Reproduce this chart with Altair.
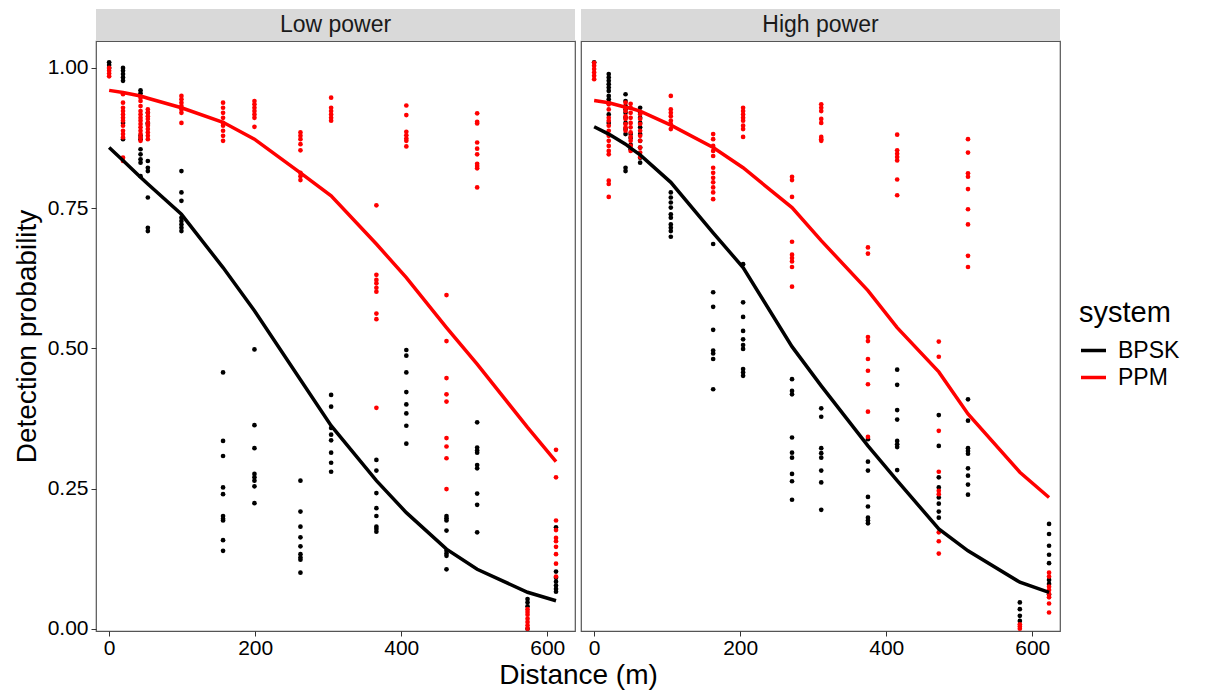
import altair as alt
import pandas as pd

FONT = "Liberation Sans"

# ---------------- Low power ----------------
low_dist = [0, 19, 43, 53, 99, 156, 199, 262, 304, 366, 407, 462, 504, 573, 612]
low_bpsk = [
    [1.01, 1.005, 1.0],
    [1.0, 0.995, 0.989, 0.983, 0.977, 0.902, 0.873],
    [0.960, 0.955, 0.879, 0.873, 0.855, 0.846, 0.837, 0.831, 0.807],
    [0.920, 0.902, 0.900, 0.834, 0.822, 0.816, 0.769, 0.715, 0.709],
    [0.816, 0.778, 0.763, 0.733, 0.727, 0.721, 0.715, 0.709],
    [0.457, 0.335, 0.308, 0.252, 0.240, 0.201, 0.196, 0.193, 0.158, 0.139],
    [0.498, 0.363, 0.322, 0.276, 0.270, 0.264, 0.254, 0.224],
    [0.264, 0.209, 0.182, 0.163, 0.147, 0.133, 0.127, 0.123, 0.100],
    [0.417, 0.396, 0.358, 0.346, 0.336, 0.314, 0.296, 0.280],
    [0.301, 0.282, 0.242, 0.215, 0.201, 0.182, 0.178, 0.173],
    [0.497, 0.487, 0.457, 0.422, 0.400, 0.384, 0.362, 0.330],
    [0.201, 0.197, 0.193, 0.175, 0.139, 0.134, 0.130, 0.106],
    [0.368, 0.323, 0.318, 0.314, 0.292, 0.286, 0.241, 0.221, 0.172],
    [0.053, 0.047, 0.040, 0.0],
    [0.181, 0.102, 0.091, 0.084, 0.077, 0.071, 0.066],
]
low_ppm = [
    [1.0, 0.995, 0.99, 0.985],
    [0.953, 0.938, 0.929, 0.923, 0.917, 0.911, 0.906, 0.897, 0.888, 0.882, 0.876, 0.840, 0.834],
    [0.947, 0.941, 0.932, 0.923, 0.917, 0.911, 0.906, 0.900, 0.894, 0.888, 0.882, 0.876, 0.870],
    [0.926, 0.920, 0.914, 0.909, 0.902, 0.897, 0.891, 0.885, 0.879, 0.873],
    [0.950, 0.944, 0.938, 0.932, 0.926, 0.920, 0.902],
    [0.938, 0.929, 0.920, 0.911, 0.902, 0.897, 0.888, 0.879, 0.870],
    [0.941, 0.935, 0.929, 0.923, 0.917, 0.911, 0.895],
    [0.885, 0.879, 0.873, 0.864, 0.853, 0.813, 0.807, 0.800],
    [0.947, 0.929, 0.923, 0.917, 0.911, 0.906],
    [0.755, 0.631, 0.622, 0.616, 0.608, 0.601, 0.562, 0.552, 0.394],
    [0.933, 0.916, 0.886, 0.880, 0.874, 0.870, 0.860],
    [0.595, 0.513, 0.447, 0.418, 0.405, 0.340, 0.325, 0.304, 0.249],
    [0.919, 0.904, 0.901, 0.867, 0.856, 0.846, 0.829, 0.825, 0.821, 0.787],
    [0.035, 0.030, 0.025, 0.018, 0.012, 0.006, 0.0],
    [0.319, 0.270, 0.193, 0.176, 0.162, 0.156, 0.146, 0.133, 0.116, 0.093],
]
low_bpsk_fit = [0.858, 0.835, 0.805, 0.793, 0.739, 0.644, 0.567, 0.444, 0.362,
                0.264, 0.207, 0.142, 0.106, 0.065, 0.050]
low_ppm_fit = [0.960, 0.956, 0.950, 0.946, 0.929, 0.903, 0.873, 0.813, 0.772,
               0.686, 0.626, 0.537, 0.472, 0.359, 0.298]

# ---------------- High power ----------------
high_dist = [0, 20, 43, 50, 63, 105, 163, 204, 271, 311, 375, 415, 472, 512, 583, 623]
high_bpsk = [
    [1.01],
    [0.989, 0.983, 0.977, 0.971, 0.965, 0.959, 0.950, 0.944, 0.938, 0.917, 0.902],
    [0.953, 0.941, 0.932, 0.926, 0.920, 0.911, 0.902, 0.891, 0.882, 0.822, 0.816],
    [0.882, 0.875, 0.863, 0.855],
    [0.929, 0.920, 0.911, 0.902, 0.894, 0.882, 0.870, 0.858, 0.840, 0.831],
    [0.778, 0.769, 0.760, 0.751, 0.739, 0.733, 0.721, 0.715, 0.709, 0.699],
    [0.686, 0.600, 0.574, 0.533, 0.496, 0.491, 0.481, 0.427],
    [0.650, 0.582, 0.556, 0.531, 0.516, 0.506, 0.499, 0.463, 0.457, 0.451],
    [0.445, 0.424, 0.418, 0.341, 0.314, 0.305, 0.276, 0.263, 0.230],
    [0.393, 0.378, 0.322, 0.313, 0.305, 0.282, 0.261, 0.212],
    [0.338, 0.298, 0.282, 0.235, 0.218, 0.198, 0.193, 0.188],
    [0.462, 0.435, 0.390, 0.373, 0.335, 0.329, 0.324, 0.283],
    [0.381, 0.326, 0.270, 0.252, 0.234, 0.223, 0.209, 0.198],
    [0.409, 0.371, 0.322, 0.317, 0.312, 0.286, 0.273, 0.257, 0.239],
    [0.047, 0.035, 0.023, 0.014],
    [0.187, 0.169, 0.148, 0.132, 0.117, 0.087, 0.080, 0.061],
]
high_ppm = [
    [1.009, 1.004, 0.998, 0.992, 0.986, 0.980],
    [0.935, 0.926, 0.911, 0.906, 0.897, 0.888, 0.879, 0.870, 0.861, 0.852, 0.846, 0.799, 0.793, 0.770],
    [0.938, 0.929, 0.923, 0.914, 0.909, 0.900, 0.894, 0.888],
    [0.936, 0.929, 0.920, 0.911, 0.902, 0.894, 0.885, 0.877, 0.870, 0.861, 0.852],
    [0.917, 0.909, 0.900, 0.888, 0.879, 0.870, 0.858, 0.849, 0.841],
    [0.950, 0.926, 0.920, 0.914, 0.906, 0.900, 0.891],
    [0.882, 0.873, 0.861, 0.852, 0.843, 0.822, 0.813, 0.804, 0.796, 0.787, 0.778, 0.766],
    [0.929, 0.923, 0.917, 0.911, 0.906, 0.897, 0.891, 0.877],
    [0.806, 0.800, 0.770, 0.690, 0.667, 0.661, 0.655, 0.645, 0.610],
    [0.935, 0.929, 0.923, 0.909, 0.902, 0.877, 0.873, 0.870],
    [0.680, 0.669, 0.520, 0.513, 0.481, 0.460, 0.436, 0.387, 0.342],
    [0.881, 0.853, 0.847, 0.841, 0.835, 0.801, 0.773],
    [0.512, 0.485, 0.353, 0.280, 0.246, 0.240, 0.172, 0.156, 0.134],
    [0.873, 0.849, 0.812, 0.806, 0.784, 0.748, 0.721, 0.665, 0.645],
    [0.008, 0.004, 0.0],
    [0.100, 0.093, 0.075, 0.069, 0.062, 0.056, 0.045, 0.029],
]
high_bpsk_fit = [0.895, 0.882, 0.864, 0.857, 0.845, 0.796, 0.706, 0.644, 0.503,
                 0.433, 0.326, 0.264, 0.178, 0.139, 0.083, 0.065]
high_ppm_fit = [0.942, 0.938, 0.930, 0.928, 0.923, 0.898, 0.858, 0.822, 0.751,
                0.692, 0.603, 0.537, 0.458, 0.383, 0.279, 0.234]

systems = ["BPSK", "PPM"]
sys_colors = ["#000000", "#FF0000"]
panel_titles = ["Low power", "High power"]
x_ticks = [0, 200, 400, 600]
y_ticks = [0.0, 0.25, 0.5, 0.75, 1.0]


def points_frame(dist, bpsk, ppm):
    rows = []
    for name, groups in (("BPSK", bpsk), ("PPM", ppm)):
        for d, vals in zip(dist, groups):
            for v in vals:
                rows.append({"distance": d, "prob": v, "system": name})
    return pd.DataFrame(rows)


def fit_frame(dist, bfit, pfit):
    rows = []
    for name, fit in (("BPSK", bfit), ("PPM", pfit)):
        for d, v in zip(dist, fit):
            rows.append({"distance": d, "prob": v, "system": name})
    return pd.DataFrame(rows)


W, H, STRIP = 479, 590, 32
TICK_FS, TITLE_FS, STRIP_FS = 21, 28, 23

x_scale = alt.Scale(domain=[-18, 638], nice=False, zero=False)
y_scale = alt.Scale(domain=[-0.004, 1.048], nice=False, zero=False)
color_scale = alt.Scale(domain=systems, range=sys_colors)

legend = alt.Legend(
    title="system", orient="none", legendX=983, legendY=258,
    symbolType="stroke", symbolStrokeWidth=3.5, symbolSize=625,
    titleFont=FONT, titleFontSize=29, titleFontWeight="normal", titleColor="#000000",
    labelFont=FONT, labelFontSize=23, labelColor="#000000",
    rowPadding=-3, titlePadding=8, labelOffset=10,
)


def make_panel(title, pts, fit, first):
    if first:
        y_axis = alt.Axis(values=y_ticks, format=".2f", title="Detection probability",
                          grid=False, domain=False, tickColor="#333333", tickSize=5,
                          labelFont=FONT, labelFontSize=TICK_FS, labelColor="#000000",
                          labelPadding=3, titleFont=FONT, titleFontSize=TITLE_FS,
                          titleFontWeight="normal", titleColor="#000000", titlePadding=6)
        x_axis = alt.Axis(values=x_ticks, format="d", title="Distance (m)",
                          grid=False, domain=False, tickColor="#333333", tickSize=5,
                          labelFont=FONT, labelFontSize=TICK_FS, labelColor="#000000",
                          labelPadding=1, labelFlush=False, titleFont=FONT, titleFontSize=TITLE_FS,
                          titleFontWeight="normal", titleColor="#000000", titlePadding=3,
                          titleX=W + 3)
    else:
        y_axis = None
        x_axis = alt.Axis(values=x_ticks, format="d", title=None,
                          grid=False, domain=False, tickColor="#333333", tickSize=5,
                          labelFont=FONT, labelFontSize=TICK_FS, labelColor="#000000",
                          labelPadding=1, labelFlush=False)

    x_enc = alt.X("distance:Q", scale=x_scale, axis=x_axis)
    y_enc = alt.Y("prob:Q", scale=y_scale, axis=y_axis)
    c_enc = alt.Color("system:N", scale=color_scale, legend=legend)

    pts_layer = alt.Chart(pts).mark_circle(size=22, opacity=1).encode(
        x=x_enc, y=y_enc, color=c_enc)
    line_layer = alt.Chart(fit).mark_line(strokeWidth=3.5).encode(
        x=x_enc, y=y_enc, color=c_enc)

    label_df = pd.DataFrame({"t": [title]})
    strip_rect = alt.Chart(label_df).mark_rect(fill="#D9D9D9").encode(
        x=alt.value(0), x2=alt.value(W), y=alt.value(-STRIP), y2=alt.value(0))
    strip_text = alt.Chart(label_df).mark_text(
        font=FONT, fontSize=STRIP_FS, color="#1A1A1A", baseline="middle", align="center"
    ).encode(x=alt.value(W / 2), y=alt.value(-STRIP / 2), text="t:N")

    return alt.layer(strip_rect, strip_text, pts_layer, line_layer).properties(
        width=W, height=H)


left = make_panel(panel_titles[0], points_frame(low_dist, low_bpsk, low_ppm),
                  fit_frame(low_dist, low_bpsk_fit, low_ppm_fit), True)
right = make_panel(panel_titles[1], points_frame(high_dist, high_bpsk, high_ppm),
                   fit_frame(high_dist, high_bpsk_fit, high_ppm_fit), False)

chart = alt.hconcat(left, right, spacing=6, bounds="flush").properties(
    padding={"left": 4, "top": 0, "right": 5, "bottom": 2}
).configure_view(stroke="#555555", strokeWidth=1.2)

chart.save("out.html", embed_options={"renderer": "svg", "actions": False})
